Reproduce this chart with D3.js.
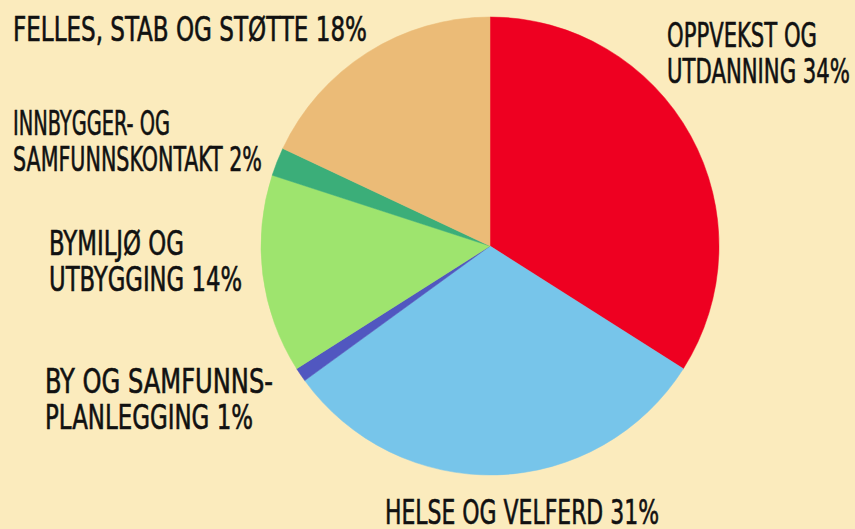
<!DOCTYPE html>
<html>
<head>
<meta charset="utf-8">
<script src="https://cdn.jsdelivr.net/npm/d3@7"></script>
<style>
  body { margin: 0; background: #fbebbd; }
  svg { display: block; }
</style>
</head>
<body>
<div id="chart"></div>
<script>
const categories = [
  'Oppvekst og utdanning',
  'Helse og velferd',
  'By og samfunnsplanlegging',
  'Bymiljø og utbygging',
  'Innbygger- og samfunnskontakt',
  'Felles, stab og støtte'
]
const shares = [34, 31, 1, 14, 2, 18]
const labelLines = [
  ['OPPVEKST OG', 'UTDANNING'],
  ['HELSE OG VELFERD'],
  ['BY OG SAMFUNNS-', 'PLANLEGGING'],
  ['BYMILJØ OG', 'UTBYGGING'],
  ['INNBYGGER- OG', 'SAMFUNNSKONTAKT'],
  ['FELLES, STAB OG STØTTE']
]
const colors = ['#ee0021', '#77c5ea', '#5157c0', '#9ee46e', '#3bae79', '#ebbb77']

const width = 855, height = 529
const cx = 490, cy = 246, radius = 229

// where each label block sits (x, first baseline, width of each line)
const labelLayout = [
  { x: 667, y: 47, w: [150, 183] },
  { x: 385, y: 524, w: [274] },
  { x: 45, y: 393, w: [228, 208] },
  { x: 49, y: 255, w: [135, 193] },
  { x: 13, y: 135, w: [157, 249] },
  { x: 13, y: 41, w: [354] }
]

const svg = d3.select('#chart')
  .append('svg')
    .attr('width', width)
    .attr('height', height)

svg.append('rect')
  .attr('width', width)
  .attr('height', height)
  .attr('fill', '#fbebbd')

const data = categories.map((c, i) => ({ name: c, value: shares[i], i }))

const pie = d3.pie()
  .sort(null)
  .value(d => d.value)

const arc = d3.arc()
  .innerRadius(0)
  .outerRadius(radius)

svg.append('g')
  .attr('transform', `translate(${cx}, ${cy})`)
  .selectAll('path')
  .data(pie(data))
  .enter()
  .append('path')
    .attr('d', arc)
    .attr('fill', d => colors[d.data.i])
    .attr('stroke', d => colors[d.data.i])
    .attr('stroke-width', 0.5)

const labels = svg.append('g')
  .style('font-family', '"Liberation Sans Narrow", "DejaVu Sans Condensed", sans-serif')
  .style('font-size', '34px')
  .attr('fill', '#111')
  .attr('stroke', '#111')
  .attr('stroke-width', 0.6)

data.forEach(d => {
  const lay = labelLayout[d.i]
  const lines = labelLines[d.i].slice()
  lines[lines.length - 1] += ' ' + d.value + '%'
  lines.forEach((line, k) => {
    labels.append('text')
      .attr('x', lay.x)
      .attr('y', lay.y + k * 36)
      .attr('textLength', lay.w[k])
      .attr('lengthAdjust', 'spacingAndGlyphs')
      .text(line)
  })
})
</script>
</body>
</html>
